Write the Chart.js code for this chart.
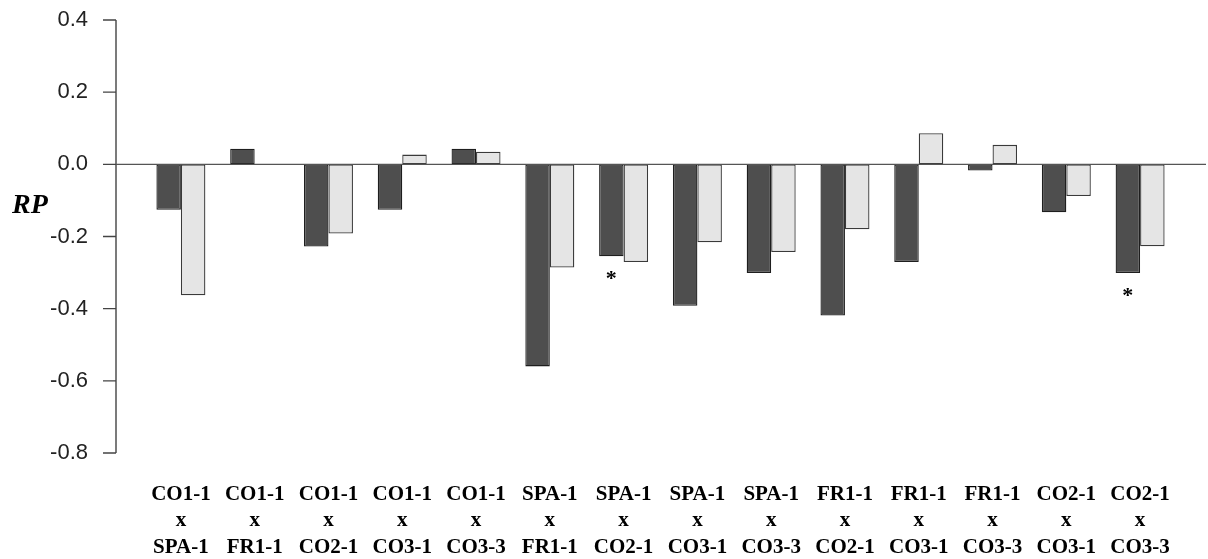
<!DOCTYPE html>
<html>
<head>
<meta charset="utf-8">
<script src="https://cdn.jsdelivr.net/npm/chart.js@4.4.1/dist/chart.umd.min.js"></script>
<style>
  body { margin: 0; background: #fff; }
  #wrap { width: 1208px; height: 559px; position: relative; }
</style>
</head>
<body>
<div id="wrap"><canvas id="rpChart"></canvas></div>
<script>
// crosses (x axis categories)
var crosses = [
  ["CO1-1", "x", "SPA-1"], ["CO1-1", "x", "FR1-1"], ["CO1-1", "x", "CO2-1"],
  ["CO1-1", "x", "CO3-1"], ["CO1-1", "x", "CO3-3"], ["SPA-1", "x", "FR1-1"],
  ["SPA-1", "x", "CO2-1"], ["SPA-1", "x", "CO3-1"], ["SPA-1", "x", "CO3-3"],
  ["FR1-1", "x", "CO2-1"], ["FR1-1", "x", "CO3-1"], ["FR1-1", "x", "CO3-3"],
  ["CO2-1", "x", "CO3-1"], ["CO2-1", "x", "CO3-3"]
];
// RP values, dark and light series
var darkRP  = [-0.126, 0.043, -0.228, -0.126, 0.043, -0.56, -0.255, -0.392, -0.301, -0.419, -0.271, -0.017, -0.133, -0.301];
var lightRP = [-0.363, null, -0.192, 0.027, 0.035, -0.286, -0.271, -0.216, -0.243, -0.18, 0.086, 0.054, -0.088, -0.227];
// asterisk marks under the dark bar
var starred = [false, false, false, false, false, false, true, false, false, false, false, false, false, true];
var yTicks = [0.4, 0.2, 0.0, -0.2, -0.4, -0.6, -0.8];

// draws the detached y axis line, zero line, RP label and asterisks
var extras = {
  id: 'extras',
  afterDatasetsDraw: function(chart) {
    var c = chart.ctx, y = chart.scales.y, area = chart.chartArea;
    var axX = area.left - 28;
    c.save();
    c.strokeStyle = '#444';
    c.lineWidth = 1.4;
    c.beginPath();
    c.moveTo(axX, y.getPixelForValue(yTicks[0]));
    c.lineTo(axX, y.getPixelForValue(yTicks[yTicks.length - 1]));
    yTicks.forEach(function(t) {
      var py = y.getPixelForValue(t);
      c.moveTo(axX - 13, py);
      c.lineTo(axX, py);
    });
    c.stroke();
    c.strokeStyle = '#555';
    c.beginPath();
    var zy = y.getPixelForValue(0);
    c.moveTo(axX, zy);
    c.lineTo(chart.width - 2, zy);
    c.stroke();

    c.fillStyle = '#000';
    c.font = 'bold italic 28px "Liberation Serif"';
    c.textAlign = 'left';
    c.textBaseline = 'middle';
    c.fillText('RP', 12, y.getPixelForValue(-0.115));

    var meta = chart.getDatasetMeta(0);
    c.font = 'bold 22px "Liberation Serif"';
    c.textAlign = 'center';
    c.textBaseline = 'top';
    starred.forEach(function(s, i) {
      if (!s) return;
      var bar = meta.data[i];
      c.fillText('*', bar.x, bar.y + 12);
    });
    c.restore();
  }
};

new Chart(document.getElementById('rpChart'), {
  type: 'bar',
  data: {
    labels: crosses,
    datasets: [
      { data: darkRP, backgroundColor: '#4e4e4e', borderColor: '#1e1e1e', borderWidth: 1.3, borderSkipped: false },
      { data: lightRP, backgroundColor: '#e5e5e5', borderColor: '#3a3a3a', borderWidth: 1.3, borderSkipped: false }
    ]
  },
  options: {
    responsive: true,
    maintainAspectRatio: false,
    animation: false,
    layout: { padding: { top: 20, right: 31, bottom: 0, left: 0 } },
    plugins: { legend: { display: false }, tooltip: { enabled: false } },
    datasets: { bar: { categoryPercentage: 0.664, barPercentage: 1 } },
    scales: {
      x: {
        grid: { display: false, drawTicks: false },
        border: { display: false },
        ticks: {
          autoSkip: false, maxRotation: 0, padding: 29, color: '#000',
          font: { family: 'Liberation Serif', size: 21, weight: 'bold', lineHeight: 1.24 }
        },
        afterFit: function(s) { s.height = 106; }
      },
      y: {
        min: -0.8, max: 0.4,
        grid: { display: false, drawTicks: false },
        border: { display: false },
        ticks: {
          stepSize: 0.2, padding: 56, color: '#222',
          font: { family: 'Liberation Sans', size: 22 },
          callback: function(v) { return v.toFixed(1); }
        },
        afterFit: function(s) { s.width = 144; s.paddingTop = 0; s.paddingBottom = 0; }
      }
    }
  },
  plugins: [extras]
});
</script>
</body>
</html>
